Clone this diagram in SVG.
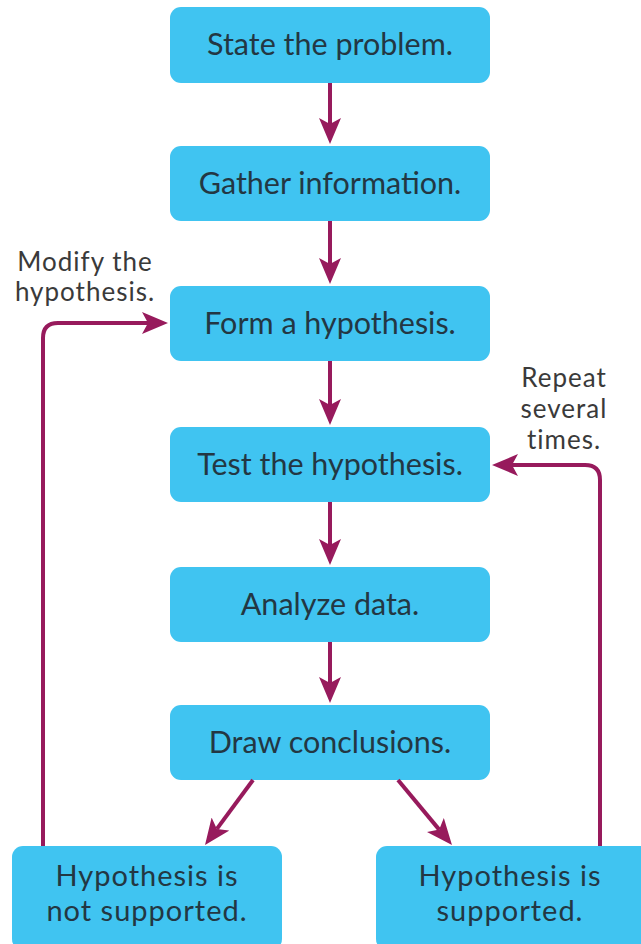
<svg xmlns="http://www.w3.org/2000/svg" width="641" height="944" viewBox="0 0 641 944">
<style>
.box{fill:#40C4F1;}
.bt{font-family:Lato,"Open Sans","Liberation Sans",sans-serif;font-size:30.5px;fill:#233743;text-anchor:middle;}
.bt2{font-family:Lato,"Open Sans","Liberation Sans",sans-serif;font-size:29px;letter-spacing:1px;fill:#233743;text-anchor:middle;}
.lbl{font-family:Lato,"Open Sans","Liberation Sans",sans-serif;font-size:26px;letter-spacing:1px;fill:#3a3a3a;text-anchor:middle;}
.con{fill:none;stroke:#971A5C;stroke-width:4;}
</style>
<defs>
<marker id="ah" viewBox="0 0 26 22" refX="6" refY="11" markerWidth="26" markerHeight="22" markerUnits="userSpaceOnUse" orient="auto">
<path d="M0,0 L26,11 L0,22 L6,11 z" fill="#971A5C"/>
</marker>
</defs>
<rect width="641" height="944" fill="#fff"/>
<g id="n1"><rect class="box" x="170" y="7" width="320" height="76" rx="11"/><text class="bt" x="330" y="55">State the problem.</text></g>
<g id="n2"><rect class="box" x="170" y="146" width="320" height="75" rx="11"/><text class="bt" x="330" y="194">Gather information.</text></g>
<g id="n3"><rect class="box" x="170" y="286" width="320" height="75" rx="11"/><text class="bt" x="330" y="334">Form a hypothesis.</text></g>
<g id="n4"><rect class="box" x="170" y="427" width="320" height="75" rx="11"/><text class="bt" x="330" y="475">Test the hypothesis.</text></g>
<g id="n5"><rect class="box" x="170" y="567" width="320" height="75" rx="11"/><text class="bt" x="330" y="615">Analyze data.</text></g>
<g id="n6"><rect class="box" x="170" y="705" width="320" height="75" rx="11"/><text class="bt" x="330" y="753">Draw conclusions.</text></g>
<g id="n7"><rect class="box" x="12" y="846" width="270" height="104" rx="11"/><text class="bt2" x="147" y="886">Hypothesis is</text><text class="bt2" x="147" y="921">not supported.</text></g>
<g id="n8"><rect class="box" x="376" y="846" width="275" height="104" rx="11"/><text class="bt2" x="510" y="886">Hypothesis is</text><text class="bt2" x="510" y="921">supported.</text></g>
<g id="labels">
<text class="lbl" x="85" y="271">Modify the</text>
<text class="lbl" x="85" y="301">hypothesis.</text>
<text class="lbl" x="564" y="387">Repeat</text>
<text class="lbl" x="564" y="418">several</text>
<text class="lbl" x="564" y="449">times.</text>
</g>
<g id="connectors">
<line class="con" x1="330" y1="83" x2="330" y2="124" marker-end="url(#ah)"/>
<line class="con" x1="330" y1="221" x2="330" y2="264" marker-end="url(#ah)"/>
<line class="con" x1="330" y1="361" x2="330" y2="405" marker-end="url(#ah)"/>
<line class="con" x1="330" y1="502" x2="330" y2="545" marker-end="url(#ah)"/>
<line class="con" x1="330" y1="642" x2="330" y2="683" marker-end="url(#ah)"/>
<line class="con" x1="253" y1="780" x2="216.9" y2="828.9" marker-end="url(#ah)"/>
<line class="con" x1="398" y1="780" x2="439.2" y2="829.6" marker-end="url(#ah)"/>
<path class="con" d="M43,846 V338 Q43,323 58,323 H148" marker-end="url(#ah)"/>
<path class="con" d="M600,846 V480 Q600,465 585,465 H512" marker-end="url(#ah)"/>
</g>
</svg>
